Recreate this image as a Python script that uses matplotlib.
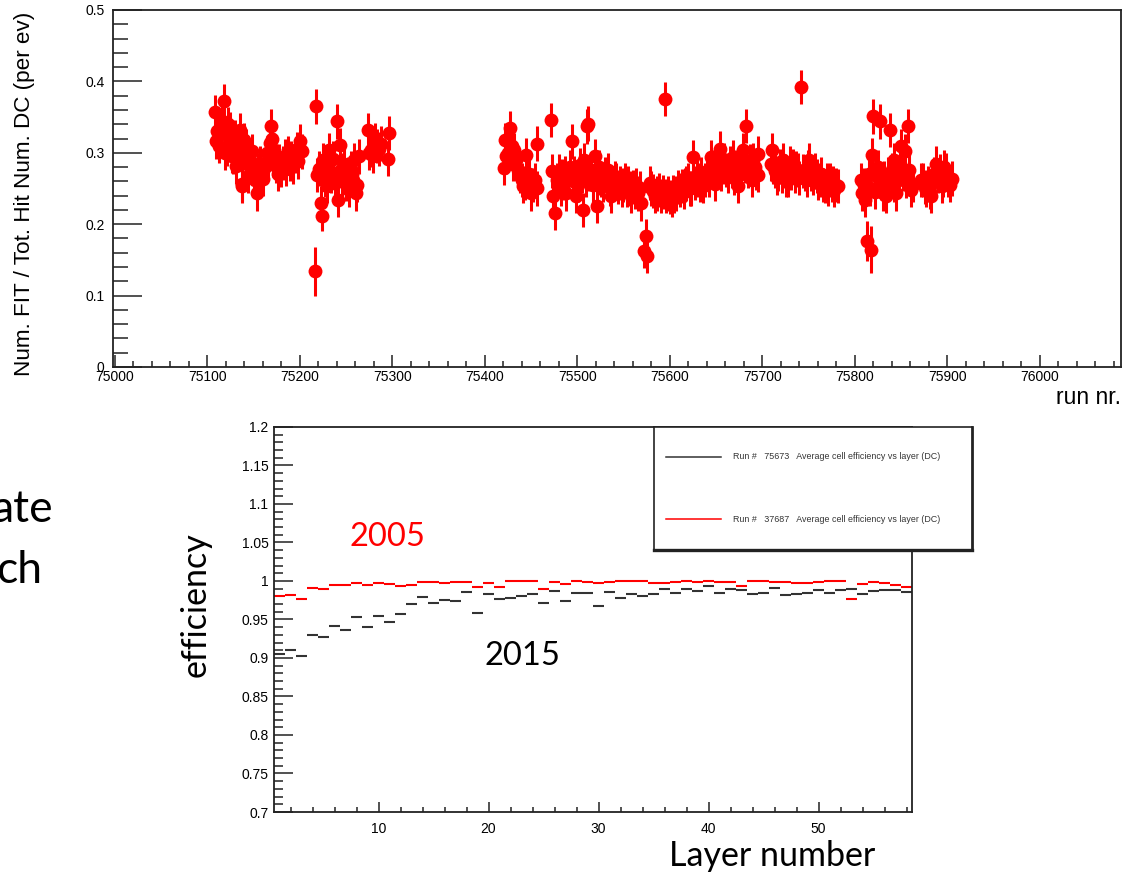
import matplotlib
matplotlib.use("Agg")
import matplotlib.pyplot as plt
from matplotlib.ticker import MultipleLocator

# ---------------------------------------------------------------
# Daten oben: Num. FIT / Tot. Hit Num. DC pro Run
runs_a = [75108, 75109, 75111, 75113, 75115, 75116, 75118, 75119, 75121, 75122,
          75124, 75126, 75127, 75128, 75130, 75131, 75133, 75135, 75136, 75137,
          75138, 75140, 75142, 75143, 75144, 75146, 75148, 75150, 75152, 75154,
          75155, 75157, 75158, 75160, 75162, 75164, 75166, 75168, 75169, 75170,
          75171, 75172, 75174, 75176, 75178, 75180, 75182, 75184, 75185, 75187,
          75189, 75191, 75193, 75195, 75197, 75198, 75200, 75202, 75216, 75218,
          75219, 75221, 75223, 75224, 75225, 75227, 75229, 75230, 75232, 75234,
          75236, 75238, 75240, 75241, 75243, 75245, 75246, 75248, 75250, 75252,
          75253, 75255, 75256, 75258, 75259, 75261, 75262, 75264, 75274, 75275,
          75277, 75279, 75281, 75283, 75286, 75288, 75295, 75296]
vals_a = [0.357, 0.316, 0.330, 0.310, 0.327, 0.345, 0.372, 0.300, 0.305, 0.340,
          0.333, 0.318, 0.296, 0.295, 0.322, 0.281, 0.310, 0.332, 0.300, 0.257,
          0.253, 0.318, 0.309, 0.285, 0.268, 0.290, 0.302, 0.272, 0.262, 0.243,
          0.276, 0.285, 0.270, 0.264, 0.280, 0.300, 0.287, 0.314, 0.337, 0.320,
          0.290, 0.304, 0.282, 0.271, 0.288, 0.276, 0.286, 0.295, 0.278, 0.300,
          0.284, 0.292, 0.281, 0.296, 0.305, 0.288, 0.316, 0.302, 0.134, 0.365,
          0.269, 0.278, 0.230, 0.211, 0.290, 0.262, 0.253, 0.284, 0.304, 0.268,
          0.292, 0.258, 0.344, 0.234, 0.311, 0.276, 0.262, 0.285, 0.257, 0.270,
          0.248, 0.278, 0.271, 0.262, 0.290, 0.243, 0.255, 0.295, 0.332, 0.300,
          0.304, 0.296, 0.318, 0.310, 0.305, 0.313, 0.292, 0.328]

runs_b = [75421, 75422, 75423, 75425, 75427, 75429, 75430, 75432, 75434, 75436,
          75438, 75440, 75441, 75443, 75445, 75447, 75448, 75450, 75452, 75454,
          75456, 75457, 75472, 75473, 75474, 75476, 75478, 75480, 75482, 75483,
          75485, 75487, 75488, 75490, 75492, 75494, 75495, 75497, 75499, 75501,
          75503, 75505, 75506, 75507, 75509, 75511, 75512, 75513, 75515, 75517,
          75519, 75521, 75523, 75524, 75526, 75528, 75530, 75532, 75533, 75535,
          75537, 75539, 75541, 75542, 75544, 75546, 75548, 75550, 75552, 75554,
          75555, 75557, 75558, 75560, 75562, 75564, 75566, 75568, 75569, 75572,
          75574, 75575, 75579, 75580, 75582, 75584, 75586, 75588, 75591, 75593,
          75595, 75596, 75598, 75600, 75602, 75604, 75605, 75607, 75609, 75611,
          75613, 75615, 75616, 75618, 75620, 75622, 75623, 75625, 75627, 75629,
          75631, 75633, 75634, 75636, 75638, 75640, 75641, 75643, 75645, 75647,
          75649, 75650, 75652, 75654, 75655, 75656, 75658, 75659, 75661, 75663,
          75665, 75667, 75668, 75670, 75672, 75674, 75676, 75677, 75679, 75681,
          75683, 75685, 75687, 75689, 75690, 75692, 75693, 75695, 75696]
vals_b = [0.279, 0.318, 0.295, 0.300, 0.335, 0.310, 0.285, 0.304, 0.290, 0.276,
          0.268, 0.262, 0.253, 0.258, 0.297, 0.262, 0.270, 0.243, 0.255, 0.262,
          0.250, 0.313, 0.346, 0.274, 0.239, 0.216, 0.262, 0.275, 0.250, 0.267,
          0.258, 0.272, 0.243, 0.262, 0.280, 0.316, 0.260, 0.271, 0.239, 0.255,
          0.283, 0.268, 0.220, 0.290, 0.262, 0.337, 0.341, 0.270, 0.276, 0.255,
          0.295, 0.225, 0.265, 0.280, 0.262, 0.255, 0.270, 0.262, 0.276, 0.250,
          0.239, 0.258, 0.265, 0.262, 0.252, 0.258, 0.248, 0.255, 0.262, 0.248,
          0.257, 0.250, 0.239, 0.252, 0.245, 0.255, 0.243, 0.250, 0.229, 0.163,
          0.183, 0.155, 0.258, 0.250, 0.246, 0.240, 0.243, 0.248, 0.239, 0.245,
          0.375, 0.240, 0.243, 0.238, 0.234, 0.245, 0.240, 0.243, 0.252, 0.248,
          0.253, 0.245, 0.255, 0.257, 0.262, 0.250, 0.250, 0.294, 0.258, 0.265,
          0.262, 0.255, 0.270, 0.253, 0.262, 0.275, 0.271, 0.262, 0.294, 0.280,
          0.257, 0.285, 0.275, 0.306, 0.290, 0.271, 0.280, 0.290, 0.276, 0.268,
          0.285, 0.275, 0.294, 0.265, 0.280, 0.253, 0.285, 0.270, 0.304, 0.282,
          0.338, 0.275, 0.288, 0.262, 0.290, 0.280, 0.272, 0.299, 0.269]

runs_c = [75709, 75711, 75712, 75714, 75716, 75717, 75719, 75721, 75723, 75725,
          75726, 75728, 75730, 75731, 75733, 75735, 75737, 75739, 75740, 75742,
          75744, 75746, 75748, 75749, 75751, 75753, 75755, 75757, 75759, 75760,
          75762, 75764, 75766, 75768, 75770, 75771, 75773, 75775, 75777, 75778,
          75780, 75782]
vals_c = [0.285, 0.304, 0.281, 0.275, 0.265, 0.271, 0.282, 0.268, 0.290, 0.275,
          0.262, 0.262, 0.285, 0.272, 0.281, 0.268, 0.278, 0.276, 0.265, 0.392,
          0.275, 0.271, 0.262, 0.280, 0.290, 0.270, 0.265, 0.276, 0.268, 0.258,
          0.262, 0.270, 0.255, 0.253, 0.262, 0.250, 0.262, 0.255, 0.258, 0.248,
          0.255, 0.253]

runs_d = [75807, 75808, 75810, 75811, 75813, 75815, 75817, 75818, 75819, 75820,
          75822, 75823, 75825, 75827, 75829, 75831, 75832, 75834, 75836, 75838,
          75840, 75842, 75843, 75845, 75847, 75849, 75850, 75852, 75854, 75856,
          75858, 75859, 75861, 75863, 75872, 75874, 75876, 75877, 75879, 75881,
          75883, 75885, 75886, 75888, 75890, 75892, 75894, 75896, 75897, 75899,
          75901, 75903, 75905]
vals_d = [0.262, 0.243, 0.255, 0.234, 0.176, 0.270, 0.250, 0.164, 0.297, 0.351,
          0.245, 0.267, 0.280, 0.344, 0.258, 0.243, 0.265, 0.239, 0.270, 0.332,
          0.276, 0.255, 0.290, 0.243, 0.262, 0.285, 0.309, 0.270, 0.302, 0.260,
          0.338, 0.276, 0.248, 0.255, 0.262, 0.262, 0.252, 0.248, 0.258, 0.245,
          0.239, 0.262, 0.270, 0.285, 0.267, 0.275, 0.253, 0.262, 0.280, 0.276,
          0.262, 0.255, 0.264]

# Fehler: Standardwert, groessere Fehler bei den Ausreissern nach unten
err_default = 0.024
err_special = {75216: 0.034, 75818: 0.033, 75813: 0.028, 75224: 0.02}

top_xticks = [75000, 75100, 75200, 75300, 75400, 75500, 75600, 75700, 75800, 75900, 76000]
top_yticks = [0, 0.1, 0.2, 0.3, 0.4, 0.5]
top_ylabels = ["0", "0.1", "0.2", "0.3", "0.4", "0.5"]

# ---------------------------------------------------------------
# Daten unten: mittlere Zelleffizienz pro Lage
layers = list(range(1, 59))
eff_2015 = [0.9056, 0.911, 0.9026, 0.9294, 0.9277, 0.9416, 0.9364, 0.9528, 0.9398, 0.9545,
            0.9472, 0.9576, 0.9706, 0.9797, 0.9714, 0.9758, 0.9745, 0.9861, 0.9584, 0.9831,
            0.9762, 0.9779, 0.9805, 0.9835, 0.9719, 0.987, 0.9736, 0.9848, 0.9844, 0.967,
            0.986, 0.978, 0.983, 0.9805, 0.983, 0.990, 0.984, 0.990, 0.9866, 0.9935,
            0.9844, 0.9896, 0.9887, 0.983, 0.9844, 0.9913, 0.9818, 0.983, 0.985, 0.988,
            0.984, 0.9883, 0.9896, 0.983, 0.9874, 0.9887, 0.9887, 0.986]
eff_2005 = [0.9805, 0.982, 0.976, 0.9905, 0.989, 0.995, 0.995, 0.997, 0.995, 0.997,
            0.996, 0.994, 0.995, 0.999, 0.999, 0.997, 0.999, 0.999, 0.992, 0.998,
            0.992, 0.9995, 0.9995, 0.9995, 0.990, 0.9985, 0.996, 1.000, 0.9985, 0.997,
            0.999, 1.000, 1.000, 1.000, 0.997, 0.998, 0.999, 1.000, 0.999, 1.000,
            0.999, 0.9985, 0.994, 1.000, 1.000, 0.9985, 0.9985, 0.997, 0.998, 0.999,
            1.000, 1.000, 0.977, 0.9965, 0.999, 0.9975, 0.995, 0.992]
legend_labels = ["Run #   75673   Average cell efficiency vs layer (DC)",
                 "Run #   37687   Average cell efficiency vs layer (DC)"]

bot_yticks = [0.7, 0.75, 0.8, 0.85, 0.9, 0.95, 1.0, 1.05, 1.1, 1.15, 1.2]
bot_ylabels = ["0.7", "0.75", "0.8", "0.85", "0.9", "0.95", "1", "1.05", "1.1", "1.15", "1.2"]
bot_xticks = [10, 20, 30, 40, 50]

# ---------------------------------------------------------------
W, H = 1136, 874
def fx(px):
    return px / W
def fy(py):
    return 1 - py / H

plt.rcParams["font.family"] = ["Liberation Sans", "DejaVu Sans"]
fig = plt.figure(figsize=(W / 100, H / 100), dpi=100)
fig.patch.set_facecolor("white")
frame_col = "#222222"

# oberer Plot
ax1 = fig.add_axes([fx(113), fy(367), (1121 - 113) / W, (367 - 10) / H])
for runs, vals in [(runs_a, vals_a), (runs_b, vals_b), (runs_c, vals_c), (runs_d, vals_d)]:
    errs = [err_special.get(r, err_default) for r in runs]
    ax1.errorbar(runs, vals, yerr=errs, fmt="o", color="#ff0000", ms=10, mew=0,
                 elinewidth=2.2, capsize=3.2, capthick=2.0)
ax1.set_xlim(74998, 76088)
ax1.set_ylim(0, 0.5)
ax1.set_xticks(top_xticks)
ax1.set_xticklabels([str(t) for t in top_xticks])
ax1.set_yticks(top_yticks)
ax1.set_yticklabels(top_ylabels)
ax1.xaxis.set_minor_locator(MultipleLocator(20))
ax1.yaxis.set_minor_locator(MultipleLocator(0.02))
ax1.tick_params(axis="x", which="major", direction="in", length=8.5, width=1.1,
                pad=2, labelsize=10, colors=frame_col, labelcolor="black")
ax1.tick_params(axis="x", which="minor", direction="in", length=4.2, width=1.1, colors=frame_col)
ax1.tick_params(axis="y", which="major", direction="in", length=21, width=1.1,
                pad=6, labelsize=10, colors=frame_col, labelcolor="black")
ax1.tick_params(axis="y", which="minor", direction="in", length=10.5, width=1.1, colors=frame_col)
for sp in ax1.spines.values():
    sp.set_color(frame_col)
    sp.set_linewidth(1.3)

fig.text(fx(25), fy(194), "Num. FIT / Tot. Hit Num. DC (per ev)", rotation=90,
         ha="center", va="center", fontsize=16.2)
fig.text(fx(1121), fy(404), "run nr.", ha="right", va="baseline", fontsize=16.5)

# unterer Plot
ax2 = fig.add_axes([fx(274), fy(812), (912 - 274) / W, (812 - 427) / H])
lefts = [l - 0.5 for l in layers]
rights = [l + 0.5 for l in layers]
ax2.hlines(eff_2015, lefts, rights, color="#333333", lw=1.5)
ax2.hlines(eff_2005, lefts, rights, color="#ff0000", lw=1.5)
ax2.set_xlim(0.5, 58.5)
ax2.set_ylim(0.7, 1.2)
ax2.set_xticks(bot_xticks)
ax2.set_xticklabels([str(t) for t in bot_xticks])
ax2.set_yticks(bot_yticks)
ax2.set_yticklabels(bot_ylabels)
ax2.xaxis.set_minor_locator(MultipleLocator(2))
ax2.yaxis.set_minor_locator(MultipleLocator(0.01))
ax2.tick_params(axis="x", which="major", direction="in", length=7, width=1.1,
                pad=7, labelsize=10, colors=frame_col, labelcolor="black")
ax2.tick_params(axis="x", which="minor", direction="in", length=3.6, width=1.1, colors=frame_col)
ax2.tick_params(axis="y", which="major", direction="in", length=13.5, width=1.1,
                pad=4, labelsize=10, colors=frame_col, labelcolor="black")
ax2.tick_params(axis="y", which="minor", direction="in", length=6.5, width=1.1, colors=frame_col)
for sp in ax2.spines.values():
    sp.set_color(frame_col)
    sp.set_linewidth(1.3)

# Legende (ROOT-Stil, ragt rechts ueber den Rahmen)
lax = fig.add_axes([fx(654), fy(550), (972 - 654) / W, (550 - 427) / H])
lax.set_xlim(0, 318)
lax.set_ylim(123, 0)
lax.set_xticks([])
lax.set_yticks([])
lax.set_facecolor("white")
for sp in lax.spines.values():
    sp.set_color(frame_col)
    sp.set_linewidth(1.2)
lax.spines["bottom"].set_linewidth(2.4)
lax.spines["right"].set_linewidth(2.0)
for yy, col, lab in [(30, "#333333", legend_labels[0]), (92, "#ff0000", legend_labels[1])]:
    lax.plot([12, 67], [yy, yy], color=col, lw=1.1)
    lax.text(79, yy, lab, fontsize=6.4, color="#333333", va="center", ha="left")

# Folientext
slide_font = ["Lato", "DejaVu Sans"]
fig.text(fx(53), fy(522), "ate", ha="right", va="baseline", fontsize=32, family=slide_font)
fig.text(fx(42), fy(583), "ch", ha="right", va="baseline", fontsize=32, family=slide_font)
fig.text(fx(387), fy(537), "2005", ha="center", va="center", fontsize=23.5,
         color="#ff0000", family=slide_font)
fig.text(fx(522), fy(656), "2015", ha="center", va="center", fontsize=23.5,
         color="black", family=slide_font)
fig.text(fx(196), fy(605), "efficiency", rotation=90, ha="center", va="center",
         fontsize=24.5, family=slide_font)
fig.text(fx(772), fy(866), "Layer number", ha="center", va="baseline",
         fontsize=24.5, family=slide_font)

fig.savefig("out.png", dpi=100, facecolor="white")
